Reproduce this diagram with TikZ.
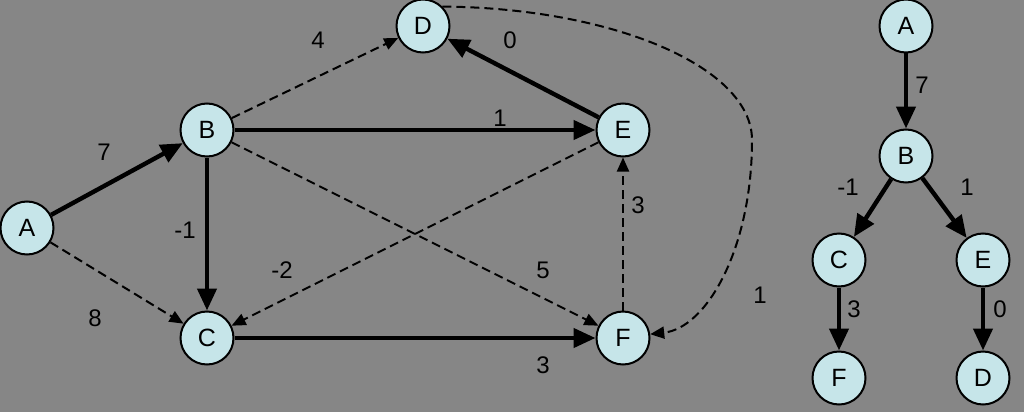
\documentclass[tikz,border=0pt]{standalone}
\usepackage{fontspec}
\setmainfont{Liberation Sans}
\usetikzlibrary{arrows.meta}
\definecolor{bg}{RGB}{134,134,134}
\definecolor{nodefill}{RGB}{198,229,233}
\begin{document}
\begin{tikzpicture}[x=1pt,y=-1pt,
  vert/.style={circle,draw=black,line width=2pt,fill=nodefill,minimum size=53pt,inner sep=0pt,font=\fontsize{25}{25}\selectfont},
  solidarrow/.style={line width=4.4pt,-{Triangle[length=22pt,width=19pt]}},
  dasharrow/.style={line width=2pt,dash pattern=on 9pt off 5pt,-{Triangle[length=14pt,width=12pt]}},
  wlabel/.style={font=\fontsize{24}{24}\selectfont,inner sep=0pt}]
\fill[bg] (0,0) rectangle (1024,412);
\useasboundingbox (0,0) rectangle (1024,412);
% main graph
\node[vert] (A) at (27,228) {A};
\node[vert] (B) at (207,130) {B};
\node[vert] (C) at (207,338) {C};
\node[vert] (D) at (423,26) {D};
\node[vert] (E) at (623,130) {E};
\node[vert] (F) at (623,338) {F};
\coordinate (R) at (752,140);
\draw[dasharrow] (B) -- (D);
\draw[dasharrow] (A) -- (C);
\draw[dasharrow] (E) -- (C);
\draw[dasharrow] (B) -- (F);
\draw[dasharrow] (F) -- (E);
\draw[dasharrow] (D.45) .. controls (613,8) and (752,67) .. (R)
  .. controls (752,248) and (707,328) .. (F.8);
\draw[solidarrow] (A) -- (B);
\draw[solidarrow] (B) -- (E);
\draw[solidarrow] (E) -- (D);
\draw[solidarrow] (B) -- (C);
\draw[solidarrow] (C) -- (F);
\node[wlabel] (l1) at (104,152) {7};
\node[wlabel] (l2) at (318,40) {4};
\node[wlabel] (l3) at (510,40) {0};
\node[wlabel] (l4) at (500,118) {1};
\node[wlabel] (l5) at (185,230) {-1};
\node[wlabel] (l6) at (282,270) {-2};
\node[wlabel] (l7) at (543,270) {5};
\node[wlabel] (l8) at (638,205) {3};
\node[wlabel] (l9) at (95,318) {8};
\node[wlabel] (l10) at (543,365) {3};
\node[wlabel] (l11) at (760,295) {1};
% tree
\node[vert] (tA) at (906,26) {A};
\node[vert] (tB) at (906,156) {B};
\node[vert] (tC) at (839,260) {C};
\node[vert] (tE) at (983,260) {E};
\node[vert] (tF) at (839,378) {F};
\node[vert] (tD) at (983,378) {D};
\draw[solidarrow] (tA) -- (tB);
\draw[solidarrow] (tB) -- (tC);
\draw[solidarrow] (tB) -- (tE);
\draw[solidarrow] (tC) -- (tF);
\draw[solidarrow] (tE) -- (tD);
\node[wlabel] (t1) at (922,85) {7};
\node[wlabel] (t2) at (848,187) {-1};
\node[wlabel] (t3) at (967,187) {1};
\node[wlabel] (t4) at (854,309) {3};
\node[wlabel] (t5) at (1000,309) {0};
\end{tikzpicture}
\end{document}
